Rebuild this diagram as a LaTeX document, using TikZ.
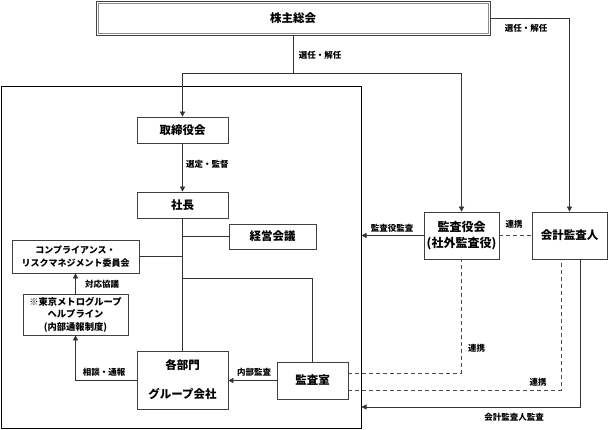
\documentclass[tikz,border=0pt]{standalone}
\usepackage{fontspec}
\setmainfont{Noto Sans CJK JP}
\usetikzlibrary{arrows.meta}
\begin{document}
\begin{tikzpicture}[x=1pt,y=-1pt,
  box/.style={draw=black!75, line width=0.7pt, inner sep=0pt, align=center, font=\bfseries\fontsize{11.5}{14}\selectfont},
  smallbox/.style={box, font=\bfseries\fontsize{9}{13}\selectfont},
  lbl/.style={font=\bfseries\fontsize{8.5}{10}\selectfont, inner sep=0pt},
  conn/.style={draw=black!80, line width=0.6pt},
  arr/.style={conn, -{Triangle[length=5pt,width=5pt]}},
  dsh/.style={draw=black!70, line width=0.6pt, dash pattern=on 4pt off 3pt},
]
\useasboundingbox (0,0) rectangle (608,430);

% outer frame
\node[draw=black, line width=1pt, minimum width=360pt, minimum height=341pt, inner sep=0pt] (frame) at (181,257.5) {};

% nodes
\node[box, minimum width=394pt, minimum height=34pt] (gm) at (293,18) {株主総会};
\draw[black!45, line width=0.6pt] ([shift={(2.2pt,-2.2pt)}]gm.north west) rectangle ([shift={(-2.2pt,2.2pt)}]gm.south east);

\node[box, minimum width=91pt, minimum height=26pt] (tori) at (182.5,130) {取締役会};
\node[box, minimum width=91pt, minimum height=26pt] (pres) at (182.5,205) {社長};
\node[box, minimum width=87pt, minimum height=25pt] (keiei) at (272.5,236.5) {経営会議};
\node[smallbox, minimum width=127pt, minimum height=33pt] (comp) at (75.5,256.5) {コンプライアンス・\\リスクマネジメント委員会};
\node[smallbox, minimum width=105pt, minimum height=41pt, font=\bfseries\fontsize{9.3}{12.5}\selectfont] (help) at (75.5,314.5) {※東京メトログループ\\ヘルプライン\\(内部通報制度)};
\node[box, minimum width=91pt, minimum height=58pt] (dept) at (182.5,380) {各部門\\[15pt]グループ会社};
\node[box, minimum width=71pt, minimum height=37pt] (office) at (312.5,380.5) {監査室};
\node[box, minimum width=75pt, minimum height=47pt, font=\bfseries\fontsize{12}{16}\selectfont] (ksy) at (461.5,235.5) {監査役会\\(社外監査役)};
\node[box, minimum width=75pt, minimum height=47pt] (kai) at (569.5,235.5) {会計監査人};

% helper coordinates
\coordinate (j1) at (293,73);
\coordinate (j2) at (182.5,278);
\coordinate (y407) at (0,407);

% connectors
\draw[conn] (gm.south) -- (j1);
\draw[arr] (j1) -| (tori.north);
\draw[arr] (j1) -| (ksy.north);
\draw[arr] (gm.east) -| (kai.north);
\draw[arr] (tori.south) -- (pres.north);
\draw[conn] (pres.south) -- (dept.north);
\draw[conn] (keiei.west) -- (keiei.west -| pres.south);
\draw[conn] (comp.east) -- (comp.east -| pres.south);
\draw[arr] (help.north) -- (comp.south);
\draw[arr] (dept.west) -| (help.south);
\draw[conn] (j2) -| (office.north);
\draw[arr] (office.west) -- (office.west -| dept.east);
\draw[arr] (ksy.west) -- (ksy.west -| frame.east);
\draw[dsh] (ksy.east) -- (kai.west);
\draw[dsh] ([yshift=7.5pt]office.east) -| (ksy.south);
\draw[dsh] ([yshift=-9.5pt]office.east) -| ([xshift=-8.5pt]kai.south);
\draw[arr] ([xshift=10.5pt]kai.south) |- (frame.east |- y407);

% labels
\node[lbl] at (320,55) {選任・解任};
\node[lbl] at (526,28) {選任・解任};
\node[lbl, anchor=west] at (186,164) {選定・監督};
\node[lbl] at (392,228) {監査役監査};
\node[lbl] at (514,224) {連携};
\node[lbl, anchor=west] at (85,284) {対応協議};
\node[lbl] at (104,372) {相談・通報};
\node[lbl] at (254,372) {内部監査};
\node[lbl, anchor=west] at (468,348) {連携};
\node[lbl] at (538,382) {連携};
\node[lbl] at (514,417) {会計監査人監査};
\end{tikzpicture}
\end{document}
